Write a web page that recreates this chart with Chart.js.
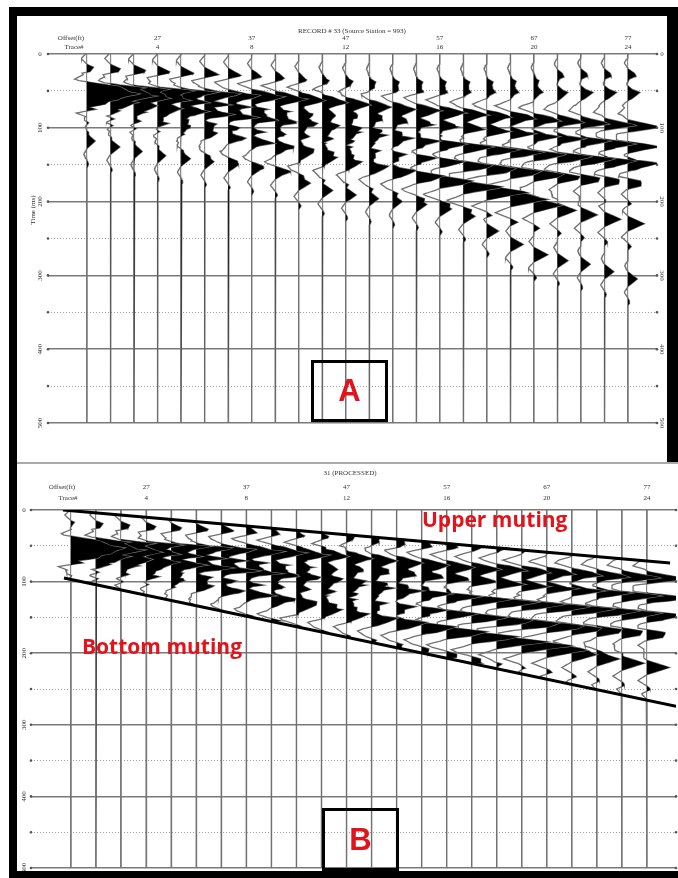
<!DOCTYPE html>
<html>
<head>
<meta charset="utf-8">
<script src="https://cdn.jsdelivr.net/npm/chart.js@4.4.0/dist/chart.umd.min.js"></script>
<style>
  body { margin: 0; background: #fff; }
  #page { position: relative; width: 678px; height: 878px; overflow: hidden; background: #fff; }
  canvas { position: absolute; left: 0; }
  .bar { position: absolute; background: #000; }
  .box { position: absolute; box-sizing: border-box; border: 3px solid #000;
         color: #e3131b; font: bold 31px "Liberation Sans", Arial, sans-serif; text-align: center; }
  .note { position: absolute; color: #e3131b; font: 700 21px "Open Sans", sans-serif; line-height: 21px; white-space: nowrap; }
</style>
</head>
<body>
<div id="page">
  <canvas id="recordA" width="678" height="462" style="top:0"></canvas>
  <canvas id="recordB" width="678" height="416" style="top:462px"></canvas>

  <div class="bar" style="left:9px;top:7px;width:669px;height:9px"></div>
  <div class="bar" style="left:9px;top:7px;width:8px;height:871px"></div>
  <div class="bar" style="left:9px;top:871px;width:669px;height:7px"></div>
  <div class="bar" style="left:667px;top:7px;width:11px;height:455px"></div>
  <div style="position:absolute;left:17px;top:462px;width:661px;height:2px;background:#aaa"></div>

  <div class="box" style="left:311px;top:360px;width:77px;height:62px;line-height:56px">A</div>
  <div class="box" style="left:322px;top:808px;width:77px;height:63px;line-height:57px">B</div>
  <div class="note" style="left:422px;top:509px">Upper muting</div>
  <div class="note" style="left:82px;top:636px">Bottom muting</div>
</div>

<script>
// trace layout
const traceNumbers = [1,2,3,4,5,6,7,8,9,10,11,12,13,14,15,16,17,18,19,20,21,22,23,24];
const labelTraces = [4, 8, 12, 16, 20, 24];
const offsetLabels = [27, 37, 47, 57, 67, 77];
const timeTicks = [0, 100, 200, 300, 400, 500];
const gridTimes = [0, 50, 100, 150, 200, 250, 300, 350, 400, 450, 500];

// source wavelet (ms from peak, amplitude in trace spacings)
const waveletTimes = [-26, -18, -10, 0, 10, 18, 26, 31, 36];
const waveletAmps  = [0, -0.35, 0, 1, 0, -0.4, 0, 0.2, 0];

// Record A (raw) - arrival times (ms) and amplitudes per trace
const firstBreakTimeA = [24,24,25,26,27,28,29,31,33,35,36,37,38,38,38,38,38,38,37,36,31,30,30,30];
const firstBreakAmpA  = [0.7,0.7,0.7,0.65,0.6,0.6,0.55,0.5,0.5,0.45,0.4,0.4,0.35,0.35,0.35,0.35,0.35,0.35,0.35,0.35,0.4,0.4,0.4,0.45];
const flatTimeA = [44,45,46,47,48,49,50,51,52,52,52,52,52,52,52,52,52,52,52,52,52,52,52,52];
const flatAmpA  = [0,0,0,0,0,0,0,0.3,0.35,0.35,0.4,0.4,0.4,0.4,0.4,0.4,0.4,0.45,0.45,0.5,0.55,0.6,0.6,0.6];
const bandATimeA = [44,46,48,50,52,54,56,58,61,63,66,69,72,75,77,80,83,86,88,91,93,95,97,99];
const bandAAmpA  = [2.2,2.1,2.0,2.0,1.9,1.9,1.8,1.8,1.8,1.7,1.7,1.7,1.6,1.6,1.6,1.6,1.5,1.5,1.5,1.5,1.4,1.4,1.4,1.4];
const bandBTimeA = [54,57,60,63,66,69,72,75,78,81,84,87,90,93,96,99,102,105,108,112,115,118,122,126];
const bandBAmpA  = [2.0,2.0,1.9,1.9,1.8,1.8,1.8,1.7,1.7,1.7,1.7,1.6,1.6,1.6,1.6,1.6,1.6,1.6,1.6,1.6,1.6,1.6,1.6,1.6];
const bandCTimeA = [62,66,70,74,78,82,86,90,94,98,102,106,110,114,118,122,126,130,133,136,139,142,145,148];
const bandCAmpA  = [1.6,1.6,1.5,1.5,1.5,1.5,1.5,1.5,1.5,1.5,1.5,1.5,1.5,1.5,1.5,1.5,1.5,1.5,1.5,1.5,1.6,1.6,1.6,1.7];
const bandDTimeA = [68,74,79,84,89,95,100,106,111,116,121,126,131,136,141,146,151,155,159,163,166,168,170,172];
const bandDAmpA  = [0.6,0.6,0.6,0.7,0.7,0.8,0.8,0.9,1.0,1.0,1.0,1.0,1.1,1.1,1.2,1.2,1.3,1.3,1.3,1.2,0.9,0.8,0.7,0.7];
const steepTimeA = [75,82,88,94,100,107,114,121,128,134,140,146,152,158,165,172,180,188,197,205,212,218,224,230];
const steepAmpA  = [0.5,0.5,0.5,0.55,0.6,0.7,0.8,0.9,1.0,1.0,1.0,1.0,1.1,1.2,1.3,1.4,1.5,1.6,1.6,1.2,0.8,0.7,0.7,0.7];
const lateTimeA = [118,126,132,138,142,146,150,155,160,175,185,191,196,200,204,210,220,240,258,272,280,285,295,305];
const lateAmpA  = [0.35,0.4,0.35,0.35,0.4,0.4,0.45,0.45,0.5,0.5,0.45,0.45,0.4,0.4,0.45,0.5,0.5,0.5,0.55,0.6,0.45,0.4,0.4,0.4];

// Record B (processed)
const firstBreakTimeB = [25,25,26,27,28,29,30,32,34,36,37,38,39,39,39,39,39,39,38,37,32,31,31,31];
const firstBreakAmpB  = [0.7,0.7,0.7,0.65,0.6,0.6,0.55,0.55,0.5,0.45,0.4,0.4,0.4,0.4,0.35,0.35,0.35,0.35,0.35,0.35,0.4,0.4,0.4,0.45];
const flatTimeB = [44,45,46,47,48,49,50,51,52,52,52,52,52,52,52,52,52,52,52,52,52,52,52,52];
const flatAmpB  = [0,0,0,0,0,0,0,0.4,0.45,0.45,0.5,0.5,0.5,0.5,0.5,0.5,0.5,0.55,0.55,0.55,0.6,0.6,0.6,0.6];
const bandATimeB = [43,45,47,49,51,53,55,58,60,63,65,68,71,74,77,80,83,85,88,90,92,94,95,96];
const bandAAmpB  = [2.1,2.1,2.0,2.0,2.0,1.9,1.9,1.9,1.9,1.9,1.8,1.8,1.8,1.8,1.8,1.7,1.7,1.7,1.7,1.6,1.6,1.6,1.6,1.6];
const bandBTimeB = [53,56,59,62,65,68,71,74,77,80,83,86,89,92,95,98,101,104,107,110,113,116,120,123];
const bandBAmpB  = [2.0,2.0,2.0,1.9,1.9,1.9,1.9,1.9,1.9,1.9,1.9,1.9,1.9,1.9,1.9,1.8,1.8,1.8,1.8,1.8,1.8,1.8,1.8,1.8];
const bandCTimeB = [61,65,69,73,77,81,85,89,93,97,101,105,109,113,117,121,125,129,132,135,138,141,144,147];
const bandCAmpB  = [1.8,1.8,1.8,1.8,1.8,1.8,1.8,1.8,1.8,1.8,1.8,1.8,1.8,1.8,1.8,1.8,1.8,1.8,1.8,1.8,1.8,1.8,1.8,1.8];
const bandDTimeB = [67,73,78,83,88,94,99,105,110,115,120,125,130,135,140,145,150,154,158,162,165,167,169,171];
const bandDAmpB  = [0.8,0.8,0.8,0.9,0.9,1.0,1.0,1.1,1.2,1.3,1.3,1.3,1.4,1.4,1.5,1.5,1.5,1.5,1.5,1.4,1.1,1.0,0.9,0.9];
const steepTimeB = [74,81,87,93,99,106,113,120,127,133,139,145,151,157,163,170,177,184,190,196,202,208,214,220];
const steepAmpB  = [0.6,0.6,0.65,0.7,0.8,0.9,1.0,1.1,1.2,1.3,1.3,1.3,1.4,1.5,1.6,1.7,1.8,1.8,1.8,1.5,1.0,0.9,0.9,0.9];
const lateTimeB = [115,123,130,136,141,146,150,155,160,172,182,190,195,200,205,210,218,230,240,250,258,262,268,275];
const lateAmpB  = [0.4,0.45,0.45,0.45,0.5,0.5,0.55,0.55,0.6,0.65,0.6,0.6,0.6,0.6,0.65,0.65,0.7,0.7,0.7,0.7,0.6,0.6,0.6,0.6];

// mute lines of record B (trace, ms)
const upperMuteTraceB = [0.68, 24.92];
const upperMuteTimeB  = [0, 74];
const bottomMuteTraceB = [0.72, 25.16];
const bottomMuteTimeB  = [95, 274];

const clipAmp = 2.6;

function waveletValue(dt) {
    const n = waveletTimes.length;
    if (dt <= waveletTimes[0] || dt >= waveletTimes[n - 1]) return 0;
    for (let k = 1; k < n; k++) {
        if (dt <= waveletTimes[k]) {
            const f = (dt - waveletTimes[k - 1]) / (waveletTimes[k] - waveletTimes[k - 1]);
            return waveletAmps[k - 1] + f * (waveletAmps[k] - waveletAmps[k - 1]);
        }
    }
    return 0;
}

function lineTime(traces, times, tr) {
    return times[0] + (tr - traces[0]) / (traces[1] - traces[0]) * (times[1] - times[0]);
}

// one wiggle line + one filled positive part per trace
function traceDatasets(events, mute) {
    const sets = [];
    traceNumbers.forEach((tr, i) => {
        const wiggle = [];
        const positive = [];
        const top = mute ? lineTime(mute.upT, mute.upMs, tr) : -1;
        const bottom = mute ? lineTime(mute.lowT, mute.lowMs, tr) : 1e9;
        for (let t = 0; t <= 500; t++) {
            let a = 0;
            events.forEach(ev => { a += ev[1][i] * waveletValue(t - ev[0][i]); });
            if (t < top || t > bottom) a = 0;
            a = Math.max(-clipAmp, Math.min(clipAmp, a));
            wiggle.push({ x: tr + a, y: t });
            positive.push({ x: tr + Math.max(a, 0), y: t });
        }
        sets.push({
            data: positive, fill: { value: tr }, backgroundColor: '#000',
            borderColor: 'rgba(0,0,0,0)', borderWidth: 0, pointRadius: 0
        });
        sets.push({
            data: wiggle, fill: false, borderColor: '#707070', borderWidth: 1.3, pointRadius: 0
        });
    });
    return sets;
}

const labelPlugin = {
    id: 'seisLabels',
    afterDraw(chart, args, opts) {
        const { ctx, chartArea } = chart;
        const xs = chart.scales.x;
        const ys = chart.scales.y;
        ctx.save();
        ctx.fillStyle = '#333';
        ctx.font = '7px "Liberation Serif"';
        ctx.textAlign = 'center';
        ctx.textBaseline = 'middle';
        ctx.fillText(opts.title, opts.titleX, opts.titleY);
        ctx.fillText('Offset(ft)', opts.offsetX, opts.offsetY);
        ctx.fillText('Trace#', opts.traceX, opts.traceY);
        labelTraces.forEach((tr, i) => {
            const px = xs.getPixelForValue(tr);
            ctx.fillText(String(offsetLabels[i]), px, opts.offsetY);
            ctx.fillText(String(tr), px, opts.traceY);
        });
        timeTicks.forEach(t => {
            const py = ys.getPixelForValue(t);
            ctx.save(); ctx.translate(opts.leftX, py); ctx.rotate(-Math.PI / 2); ctx.fillText(String(t), 0, 0); ctx.restore();
            ctx.save(); ctx.translate(opts.rightX, py); ctx.rotate(Math.PI / 2); ctx.fillText(String(t), 0, 0); ctx.restore();
        });
        if (opts.axisTitle) {
            ctx.save(); ctx.translate(opts.axisTitleX, opts.axisTitleY); ctx.rotate(-Math.PI / 2);
            ctx.fillText(opts.axisTitle, 0, 0); ctx.restore();
        }
        // small end markers on the time lines
        ctx.fillStyle = '#555';
        gridTimes.forEach(t => {
            const py = ys.getPixelForValue(t);
            [chartArea.left, chartArea.right].forEach(px => {
                ctx.beginPath(); ctx.arc(px, py, 1.3, 0, Math.PI * 2); ctx.fill();
            });
        });
        ctx.restore();
    }
};

function makeChart(id, datasets, xMin, xMax, padding, labels) {
    return new Chart(document.getElementById(id), {
        type: 'line',
        data: { datasets: datasets },
        options: {
            responsive: false,
            animation: false,
            events: [],
            indexAxis: 'y',
            layout: { padding: padding },
            plugins: { legend: { display: false }, tooltip: { enabled: false }, seisLabels: labels },
            scales: {
                x: {
                    type: 'linear', position: 'top', min: xMin, max: xMax,
                    afterBuildTicks: s => { s.ticks = traceNumbers.map(v => ({ value: v })); },
                    ticks: { display: false },
                    grid: { color: '#8a8a8a', lineWidth: 1.2, drawTicks: false },
                    border: { display: false }
                },
                y: {
                    type: 'linear', reverse: true, min: 0, max: 500,
                    afterBuildTicks: s => { s.ticks = gridTimes.map(v => ({ value: v })); },
                    ticks: { display: false },
                    grid: {
                        drawTicks: false,
                        color: c => (c.tick && c.tick.value % 100 === 0) ? '#7a7a7a' : '#a0a0a0',
                        lineWidth: c => (c.tick && c.tick.value % 100 === 0) ? 1.5 : 1
                    },
                    border: {
                        display: false,
                        dash: c => (c.tick && c.tick.value % 100 === 0) ? [] : [1, 2]
                    }
                }
            }
        },
        plugins: [labelPlugin]
    });
}

const eventsA = [
    [firstBreakTimeA, firstBreakAmpA], [flatTimeA, flatAmpA],
    [bandATimeA, bandAAmpA], [bandBTimeA, bandBAmpA], [bandCTimeA, bandCAmpA],
    [bandDTimeA, bandDAmpA], [steepTimeA, steepAmpA], [lateTimeA, lateAmpA]
];
const eventsB = [
    [firstBreakTimeB, firstBreakAmpB], [flatTimeB, flatAmpB],
    [bandATimeB, bandAAmpB], [bandBTimeB, bandBAmpB], [bandCTimeB, bandCAmpB],
    [bandDTimeB, bandDAmpB], [steepTimeB, steepAmpB], [lateTimeB, lateAmpB]
];

makeChart('recordA', traceDatasets(eventsA, null), -0.658, 25.233,
    { left: 48, right: 21, top: 54, bottom: 39 },
    {
        title: 'RECORD # 33 (Source Station = 993)', titleX: 352, titleY: 31,
        offsetX: 71, offsetY: 38, traceX: 74, traceY: 47,
        leftX: 40, rightX: 662, axisTitle: 'Time (ms)', axisTitleX: 33, axisTitleY: 210
    });

const muteLinesB = [
    { data: upperMuteTraceB.map((tr, i) => ({ x: tr, y: upperMuteTimeB[i] })), borderColor: '#000', borderWidth: 3, pointRadius: 0, fill: false },
    { data: bottomMuteTraceB.map((tr, i) => ({ x: tr, y: bottomMuteTimeB[i] })), borderColor: '#000', borderWidth: 3, pointRadius: 0, fill: false }
];

makeChart('recordB',
    muteLinesB.concat(traceDatasets(eventsB, { upT: upperMuteTraceB, upMs: upperMuteTimeB, lowT: bottomMuteTraceB, lowMs: bottomMuteTimeB })),
    -0.597, 25.158,
    { left: 31, right: 2, top: 48, bottom: 10 },
    {
        title: '31 (PROCESSED)', titleX: 350, titleY: 11,
        offsetX: 62, offsetY: 25, traceX: 68, traceY: 36,
        leftX: 24, rightX: 680, axisTitle: null
    });
</script>
</body>
</html>
